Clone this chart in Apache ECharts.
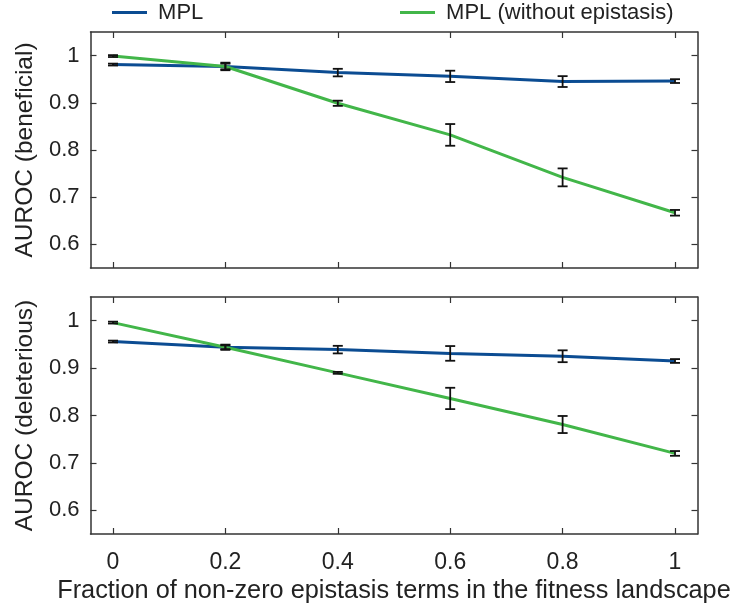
<!DOCTYPE html>
<html>
<head>
<meta charset="utf-8">
<script src="https://cdn.jsdelivr.net/npm/echarts@6/dist/echarts.min.js"></script>
<style>html,body{margin:0;padding:0;background:#fff}#c{width:734px;height:609px}</style>
</head>
<body>
<div id="c"></div>
<script>
// ---- data ----
var xVals = [0, 0.2, 0.4, 0.6, 0.8, 1];
var xTickLabels = ['0', '0.2', '0.4', '0.6', '0.8', '1'];
var yTicks = [0.6, 0.7, 0.8, 0.9, 1];
var seriesNames = ['MPL', 'MPL (without epistasis)'];
var panelNames = ['AUROC (beneficial)', 'AUROC (deleterious)'];
var xName = 'Fraction of non-zero epistasis terms in the fitness landscape';

var benMPL      = [0.981, 0.977, 0.964, 0.956, 0.945, 0.946];
var benMPLErr   = [0.002, 0.008, 0.008, 0.012, 0.0115, 0.004];
var benNoEp     = [0.999, 0.977, 0.899, 0.832, 0.742, 0.667];
var benNoEpErr  = [0.002, 0.006, 0.0055, 0.023, 0.019, 0.006];

var delMPL      = [0.956, 0.944, 0.939, 0.931, 0.925, 0.915];
var delMPLErr   = [0.002, 0.0055, 0.008, 0.0155, 0.0125, 0.004];
var delNoEp     = [0.996, 0.944, 0.890, 0.836, 0.781, 0.720];
var delNoEpErr  = [0.002, 0.004, 0.002, 0.0225, 0.018, 0.005];

// ---- build ----
var BLUE = '#0b4c92', GREEN = '#42b649', AX = '#333333', TXT = '#222222';
var FONT = 'Liberation Sans, Arial, sans-serif';

function pairs(ys){ return xVals.map(function(x,i){ return [x, ys[i]]; }); }
function triples(ys, es){ return xVals.map(function(x,i){ return [x, ys[i], es[i]]; }); }

function xAxisDef(gridIndex, pos, showLabels){
  return {
    type: 'value', gridIndex: gridIndex, position: pos,
    min: -0.04, max: 1.04,
    axisLine: { show: true, onZero: false, lineStyle: { color: AX, width: 1.5 } },
    axisTick: { show: true, inside: true, length: 6, customValues: xVals, lineStyle: { color: AX, width: 1.2 } },
    axisLabel: { show: showLabels, customValues: xVals, margin: 17, fontSize: 23, color: TXT, fontFamily: FONT,
      formatter: function(v){ var i = xVals.indexOf(v); return i >= 0 ? xTickLabels[i] : ''; } },
    splitLine: { show: false },
    name: showLabels ? xName : '', nameLocation: 'middle', nameGap: 45,
    nameTextStyle: { fontSize: 25.3, color: TXT, fontFamily: FONT }
  };
}
function yAxisDef(gridIndex, pos, showLabels, name){
  return {
    type: 'value', gridIndex: gridIndex, position: pos,
    min: 0.55, max: 1.05,
    axisLine: { show: true, onZero: false, lineStyle: { color: AX, width: 1.5 } },
    axisTick: { show: true, inside: true, length: 6, customValues: yTicks, lineStyle: { color: AX, width: 1.2 } },
    axisLabel: { show: showLabels, customValues: yTicks, margin: 11, fontSize: 22, color: TXT, fontFamily: FONT,
      formatter: function(v){ return Math.abs(v-1) < 1e-9 ? '1' : (Math.round(v*10)/10).toString(); } },
    splitLine: { show: false },
    name: showLabels ? name : '', nameLocation: 'middle', nameGap: 46,
    nameTextStyle: { fontSize: 24.5, color: TXT, fontFamily: FONT }
  };
}

function errSeries(xi, yi, data){
  return {
    type: 'custom', xAxisIndex: xi, yAxisIndex: yi, z: 5, silent: true,
    encode: { x: 0, y: 1 },
    data: data,
    renderItem: function(params, api){
      var x = api.value(0), y = api.value(1), e = api.value(2);
      var lo = api.coord([x, y - e]), hi = api.coord([x, y + e]);
      var hw = 5;
      var st = { stroke: '#111', lineWidth: 1.8 };
      return { type: 'group', children: [
        { type: 'line', shape: { x1: lo[0], y1: lo[1], x2: hi[0], y2: hi[1] }, style: st },
        { type: 'line', shape: { x1: lo[0]-hw, y1: lo[1], x2: lo[0]+hw, y2: lo[1] }, style: st },
        { type: 'line', shape: { x1: hi[0]-hw, y1: hi[1], x2: hi[0]+hw, y2: hi[1] }, style: st }
      ]};
    }
  };
}
function lineSeries(name, xi, yi, ys, color){
  return {
    type: 'line', name: name, xAxisIndex: xi, yAxisIndex: yi, data: pairs(ys),
    showSymbol: false, symbol: 'none', z: 3,
    lineStyle: { color: color, width: 3 }, itemStyle: { color: color }
  };
}
function legendDef(name, left){
  return { data: [name], left: left, top: 1.5, padding: 0, icon: 'rect', itemWidth: 35, itemHeight: 3,
    formatter: function(n){ return ' ' + n; },
    textStyle: { fontSize: 22, color: TXT, fontFamily: FONT } };
}

var option = {
  animation: false,
  backgroundColor: '#fff',
  textStyle: { fontFamily: FONT },
  legend: [ legendDef(seriesNames[0], 112), legendDef(seriesNames[1], 400) ],
  grid: [
    { left: 90.5, right: 36.5, top: 32, height: 236 },
    { left: 90.5, right: 36.5, top: 297, height: 237 }
  ],
  xAxis: [ xAxisDef(0,'bottom',false), xAxisDef(0,'top',false), xAxisDef(1,'bottom',true), xAxisDef(1,'top',false) ],
  yAxis: [ yAxisDef(0,'left',true,panelNames[0]), yAxisDef(0,'right',false,''), yAxisDef(1,'left',true,panelNames[1]), yAxisDef(1,'right',false,'') ],
  series: [
    lineSeries(seriesNames[0], 0, 0, benMPL, BLUE),
    lineSeries(seriesNames[1], 0, 0, benNoEp, GREEN),
    lineSeries(seriesNames[0], 2, 2, delMPL, BLUE),
    lineSeries(seriesNames[1], 2, 2, delNoEp, GREEN),
    errSeries(0, 0, triples(benMPL, benMPLErr)),
    errSeries(0, 0, triples(benNoEp, benNoEpErr)),
    errSeries(2, 2, triples(delMPL, delMPLErr)),
    errSeries(2, 2, triples(delNoEp, delNoEpErr))
  ]
};
var chart = echarts.init(document.getElementById('c'), null, { renderer: 'canvas' });
chart.setOption(option);
</script>
</body>
</html>
